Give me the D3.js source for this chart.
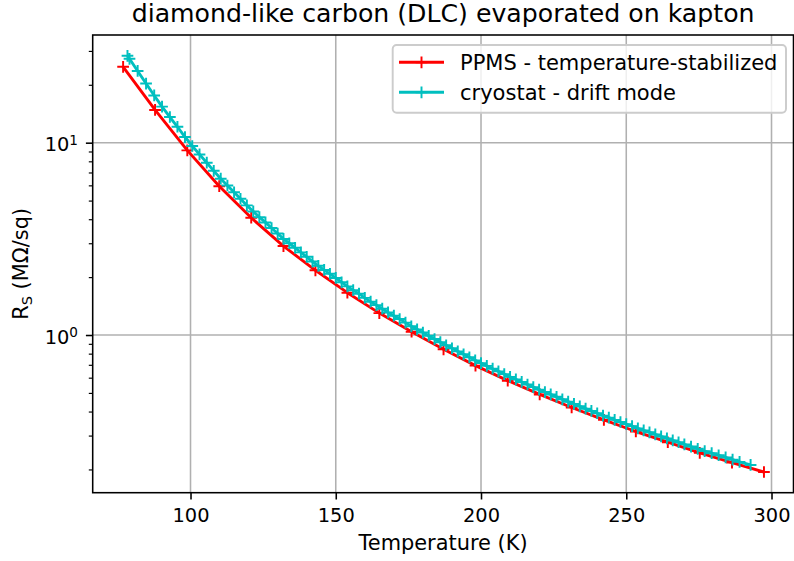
<!DOCTYPE html>
<html>
<head>
<meta charset="utf-8">
<title>DLC on kapton</title>
<script src="https://cdn.jsdelivr.net/npm/d3@7"></script>
<style>
    html, body { margin: 0; padding: 0; background: #ffffff; }
    svg { display: block; font-family: "DejaVu Sans", sans-serif; }
</style>
</head>
<body>
<div id="chart"></div>
<script>
// --- Data ---
const ppmsTemperature = [76.8, 87.8, 98.9, 109.9, 120.9, 132.0, 143.0, 154.0, 165.0, 176.1, 187.1,
    198.1, 209.2, 220.2, 231.2, 242.3, 253.3, 264.3, 275.3, 286.4, 297.4];
const ppmsResistance = [24.8, 14.8, 9.12, 5.94, 4.07, 2.90, 2.17, 1.66, 1.30, 1.04, 0.843,
    0.693, 0.579, 0.491, 0.420, 0.362, 0.315, 0.277, 0.244, 0.217, 0.194];

const cryoTemperature = [78.3, 79.0, 81.8, 84.7, 87.5, 90.2, 92.9, 95.5, 98.1, 100.6, 103.1, 105.6,
    108.0, 110.4, 112.7, 115.0, 117.2, 119.4, 121.6, 123.7, 125.8, 127.9, 130.0, 132.0, 134.0, 136.0,
    138.0, 140.0, 142, 144, 146, 148, 150, 152, 154, 156, 158, 160, 162, 164, 166, 168, 170, 172,
    174, 176, 178, 180, 182, 184, 186, 188, 190, 192, 194, 196, 198, 200, 202, 204, 206, 208, 210,
    212, 214, 216, 218, 220, 222, 224, 226, 228, 230, 232, 234, 236, 238, 240, 242, 244, 246, 248,
    250, 252, 254, 256, 258, 260, 262, 264, 266, 268, 270, 272.3, 274.6, 277.0, 279.4, 281.8,
    284.2, 286.6, 289.0, 292.8];
const cryoResistance = [28.3, 27.3, 23.6, 20.3, 17.6, 15.4, 13.6, 12.1, 10.7, 9.61, 8.69, 7.87,
    7.14, 6.50, 5.99, 5.52, 5.11, 4.72, 4.39, 4.10, 3.85, 3.60, 3.37, 3.16, 3.00, 2.84,
    2.69, 2.55, 2.41, 2.29, 2.18, 2.08, 1.98, 1.88, 1.79, 1.71, 1.64, 1.56, 1.49, 1.43, 1.37, 1.31, 1.26, 1.21,
    1.16, 1.11, 1.07, 1.03, 0.991, 0.953, 0.918, 0.884, 0.853, 0.822, 0.794, 0.766, 0.738, 0.714, 0.691, 0.668, 0.647, 0.626, 0.606,
    0.588, 0.570, 0.553, 0.536, 0.520, 0.505, 0.491, 0.477, 0.463, 0.450, 0.438, 0.426, 0.414, 0.403, 0.392, 0.381, 0.372, 0.362, 0.353,
    0.344, 0.336, 0.327, 0.319, 0.312, 0.304, 0.297, 0.290, 0.283, 0.277, 0.270, 0.263, 0.256, 0.249, 0.243, 0.237,
    0.231, 0.225, 0.219, 0.211];

const seriesNames = ['PPMS - temperature-stabilized', 'cryostat - drift mode'];
const xTicks = [100, 150, 200, 250, 300];
const yMajorTicks = [1, 10];
const yMinorTicks = [0.2, 0.3, 0.4, 0.5, 0.6, 0.7, 0.8, 0.9, 2, 3, 4, 5, 6, 7, 8, 9, 20, 30];

const titleText = 'diamond-like carbon (DLC) evaporated on kapton';
const xLabelText = 'Temperature (K)';

// --- Constants ---
const WIDTH = 794;
const HEIGHT = 561;
const PLOT = { left: 92.7, right: 793.5, top: 35, bottom: 492.7 };
const X_LIMITS = [66.33, 307.57];
const Y_LIMITS = [0.1514, 36.3];
const COLORS = ['#ff0000', '#00bfbf'];
const TICK_FONT = 19.4;
const LABEL_FONT = 20.9;
const LEGEND_FONT = 21;
const TITLE_FONT = 25.2;
const LINE_WIDTH = 2.9;
const MARKER_SIZE = 11.7;
const MARKER_EDGE = 1.94;
const MAJOR_TICK = 6.8;
const MINOR_TICK = 3.9;
const GRID_COLOR = '#b0b0b0';

let svg, x, y;

/**
 * Builds the '+' marker path centred on a point.
 */
function plusPath(cx, cy, size) {
    const h = size / 2;
    return `M${cx - h},${cy}H${cx + h}M${cx},${cy - h}V${cy + h}`;
}

/**
 * Creates the svg and the scales.
 */
function setupSvg() {
    svg = d3.select('#chart')
        .append('svg')
        .attr('width', WIDTH)
        .attr('height', HEIGHT);

    svg.append('rect')
        .attr('width', WIDTH)
        .attr('height', HEIGHT)
        .attr('fill', '#ffffff');

    x = d3.scaleLinear().domain(X_LIMITS).range([PLOT.left, PLOT.right]);
    y = d3.scaleLog().domain(Y_LIMITS).range([PLOT.bottom, PLOT.top]);
}

/**
 * Draws the grid lines at major ticks.
 */
function drawGrid() {
    const grid = svg.append('g').attr('class', 'grid');

    grid.selectAll('line.gx')
        .data(xTicks)
        .join('line')
        .attr('x1', d => x(d)).attr('x2', d => x(d))
        .attr('y1', PLOT.top).attr('y2', PLOT.bottom)
        .attr('stroke', GRID_COLOR)
        .attr('stroke-width', 1.56);

    grid.selectAll('line.gy')
        .data(yMajorTicks)
        .join('line')
        .attr('x1', PLOT.left).attr('x2', PLOT.right)
        .attr('y1', d => y(d)).attr('y2', d => y(d))
        .attr('stroke', GRID_COLOR)
        .attr('stroke-width', 1.56);
}

/**
 * Draws one series as a line with '+' markers.
 */
function drawSeries(temps, values, color) {
    const points = temps.map((t, i) => [t, values[i]]);
    const g = svg.append('g').attr('class', 'series');

    g.append('path')
        .datum(points)
        .attr('fill', 'none')
        .attr('stroke', color)
        .attr('stroke-width', LINE_WIDTH)
        .attr('stroke-linejoin', 'round')
        .attr('d', d3.line().x(d => x(d[0])).y(d => y(d[1])));

    g.append('path')
        .attr('fill', 'none')
        .attr('stroke', color)
        .attr('stroke-width', MARKER_EDGE)
        .attr('d', points.map(d => plusPath(x(d[0]), y(d[1]), MARKER_SIZE)).join(''));
}

/**
 * Draws the axes, spines and tick labels.
 */
function drawAxes() {
    const xAxis = svg.append('g')
        .attr('transform', `translate(0,${PLOT.bottom})`)
        .call(d3.axisBottom(x).tickValues(xTicks).tickSize(MAJOR_TICK).tickSizeOuter(0).tickPadding(8.5));

    const yMinor = svg.append('g')
        .attr('transform', `translate(${PLOT.left},0)`)
        .call(d3.axisLeft(y).tickValues(yMinorTicks).tickSize(MINOR_TICK).tickSizeOuter(0).tickFormat(''));

    const yAxis = svg.append('g')
        .attr('transform', `translate(${PLOT.left},0)`)
        .call(d3.axisLeft(y).tickValues(yMajorTicks).tickSize(MAJOR_TICK).tickSizeOuter(0).tickFormat(''));

    [xAxis, yMinor, yAxis].forEach(a => a.select('.domain').remove());
    xAxis.selectAll('.tick line').attr('stroke', '#000').attr('stroke-width', 1.56);
    yAxis.selectAll('.tick line').attr('stroke', '#000').attr('stroke-width', 1.56);
    yMinor.selectAll('.tick line').attr('stroke', '#000').attr('stroke-width', 1.17);

    xAxis.selectAll('.tick text')
        .attr('fill', '#000')
        .style('font-size', TICK_FONT + 'px')
        .style('font-family', '"DejaVu Sans", sans-serif');

    // power-of-ten labels with a superscript exponent
    yAxis.selectAll('.tick text').remove();
    yAxis.selectAll('.tick').each(function (d) {
        const t = d3.select(this).append('text')
            .attr('x', -14.7)
            .attr('y', 8.3)
            .attr('text-anchor', 'end')
            .attr('fill', '#000')
            .style('font-size', TICK_FONT + 'px')
            .style('font-family', '"DejaVu Sans", sans-serif');
        t.append('tspan').text('10');
        t.append('tspan')
            .attr('dy', -6.5)
            .style('font-size', '13.6px')
            .text(String(Math.round(Math.log10(d))));
    });

    // spines
    svg.append('rect')
        .attr('x', PLOT.left)
        .attr('y', PLOT.top)
        .attr('width', PLOT.right - PLOT.left)
        .attr('height', PLOT.bottom - PLOT.top)
        .attr('fill', 'none')
        .attr('stroke', '#000')
        .attr('stroke-width', 1.56);
}

/**
 * Draws the title and the axis labels.
 */
function drawLabels() {
    const cx = (PLOT.left + PLOT.right) / 2;

    svg.append('text')
        .attr('x', cx)
        .attr('y', 22)
        .attr('text-anchor', 'middle')
        .style('font-size', TITLE_FONT + 'px')
        .text(titleText);

    svg.append('text')
        .attr('x', cx)
        .attr('y', 550)
        .attr('text-anchor', 'middle')
        .style('font-size', LABEL_FONT + 'px')
        .text(xLabelText);

    const yl = svg.append('text')
        .attr('transform', `translate(28,${(PLOT.top + PLOT.bottom) / 2}) rotate(-90)`)
        .attr('text-anchor', 'middle')
        .style('font-size', LABEL_FONT + 'px');
    yl.append('tspan').text('R');
    yl.append('tspan').attr('dy', 3.8).style('font-size', '14.6px').text('S');
    yl.append('tspan').attr('dy', -3.8).text(' (MΩ/sq)');
}

/**
 * Draws the legend box in the upper right.
 */
function drawLegend() {
    const g = svg.append('g').attr('class', 'legend');
    g.append('rect')
        .attr('x', 392.7)
        .attr('y', 45)
        .attr('width', 393.3)
        .attr('height', 67.7)
        .attr('rx', 3.9)
        .attr('fill', '#ffffff')
        .attr('fill-opacity', 0.8)
        .attr('stroke', '#cccccc')
        .attr('stroke-width', 1.94);

    seriesNames.forEach((name, i) => {
        const cy = 62.3 + i * 30;
        g.append('line')
            .attr('x1', 399).attr('x2', 444)
            .attr('y1', cy).attr('y2', cy)
            .attr('stroke', COLORS[i])
            .attr('stroke-width', LINE_WIDTH);
        g.append('path')
            .attr('d', plusPath(421.5, cy, MARKER_SIZE))
            .attr('stroke', COLORS[i])
            .attr('stroke-width', MARKER_EDGE);
        g.append('text')
            .attr('x', 460)
            .attr('y', cy + 7.3)
            .style('font-size', LEGEND_FONT + 'px')
            .text(name);
    });
}

function init() {
    setupSvg();
    drawGrid();
    drawSeries(ppmsTemperature, ppmsResistance, COLORS[0]);
    drawSeries(cryoTemperature, cryoResistance, COLORS[1]);
    drawAxes();
    drawLabels();
    drawLegend();
}

document.addEventListener('DOMContentLoaded', init);
</script>
</body>
</html>
